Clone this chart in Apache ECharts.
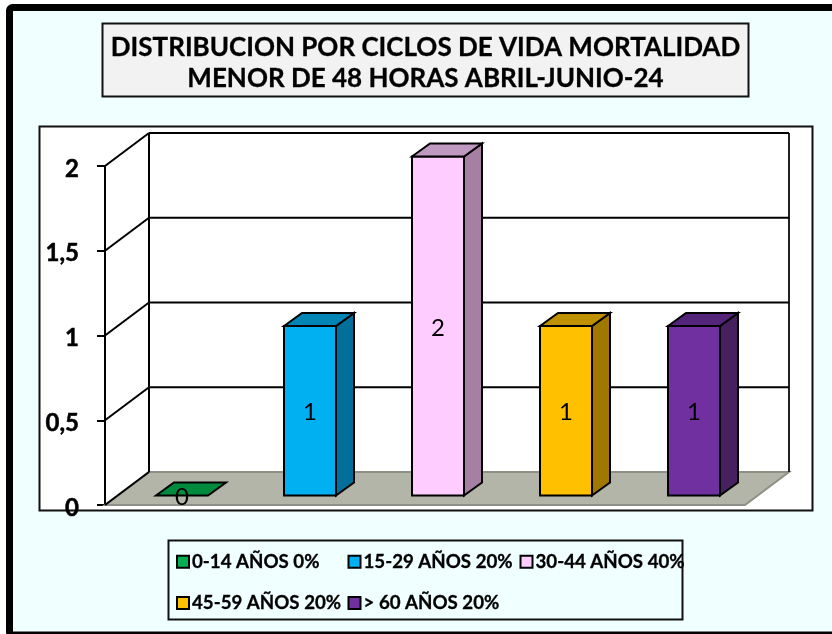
<!DOCTYPE html>
<html>
<head>
<meta charset="utf-8">
<script src="https://cdn.jsdelivr.net/npm/echarts@6/dist/echarts.min.js"></script>
<style>
  html, body { margin: 0; padding: 0; background: #fff; }
  #chart { width: 832px; height: 634px; }
</style>
</head>
<body>
<div id="chart"></div>
<script>
// datos
const titleText = 'DISTRIBUCION POR CICLOS DE VIDA MORTALIDAD\nMENOR DE 48 HORAS ABRIL-JUNIO-24';
const ageGroups = ['0-14 AÑOS', '15-29 AÑOS', '30-44 AÑOS', '45-59 AÑOS', '> 60 AÑOS'];
const deaths = [0, 1, 2, 1, 1];
const shares = ['0%', '20%', '40%', '20%', '20%'];
const yTicks = [0, 0.5, 1, 1.5, 2];

// colores: frente, lado, tapa
const frontColors = ['#00B050', '#00B0F0', '#FFCCFF', '#FFC000', '#7030A0'];
const sideColors = ['#006A30', '#006F99', '#A680A3', '#A07800', '#472060'];
const topColors = ['#008A3E', '#0085B5', '#BF99BF', '#BF9000', '#54247A'];

const FONT = 'Lato, Carlito, sans-serif';
const wallDepth = [44, -33];    // desplazamiento de la pared del fondo
const barOffset = [13, -9.5];   // donde empieza la barra dentro del piso
const barDepth = [18, -13];     // profundidad de la barra
const barWidth = 52;
const legendNames = ageGroups.map((g, i) => g + ' ' + shares[i]);

const line = (x1, y1, x2, y2, color, width) => ({
  type: 'line',
  shape: { x1, y1, x2, y2 },
  style: { stroke: color || '#000', lineWidth: width || 2 }
});
const poly = (points, fill, stroke) => ({
  type: 'polygon',
  shape: { points },
  style: { fill, stroke: stroke || '#000', lineWidth: 2, lineJoin: 'miter' }
});

// paredes y piso, una pieza por cada tick
const renderWall = (params, api) => {
  const v = api.value(0);
  const cs = params.coordSys;
  const y = api.coord([0, v])[1];
  const [dx, dy] = wallDepth;
  const left = cs.x, right = cs.x + cs.width;
  const children = [];
  if (v === 0) {
    children.push(poly([[left, y], [left + dx, y + dy], [right + dx, y + dy], [right, y]], '#B2B5A7', '#8E8F86'));
    children.push(line(left, y, left + dx, y + dy, '#000'));
    children.push(line(right + dx, cs.y + dy, right + dx, y + dy, '#222'));
    children.push(line(left + dx, cs.y + dy, left + dx, y + dy, '#000'));
  } else {
    children.push(line(left, y, left + dx, y + dy));
    children.push(line(left + dx, y + dy, right + dx, y + dy));
  }
  return { type: 'group', children };
};

const renderBar = (params, api) => {
  const i = api.value(0);
  const val = api.value(1);
  const base = api.coord([i, 0]);
  const top = api.coord([i, val]);
  const x0 = base[0] + barOffset[0] - barWidth / 2;
  const x1 = x0 + barWidth;
  const y0 = base[1] + barOffset[1];
  const y1 = top[1] + barOffset[1];
  const [dx, dy] = barDepth;
  const children = [];
  if (val > 0) {
    children.push(poly([[x1, y0], [x1 + dx, y0 + dy], [x1 + dx, y1 + dy], [x1, y1]], sideColors[i]));
    children.push(poly([[x0, y0], [x1, y0], [x1, y1], [x0, y1]], frontColors[i]));
  }
  children.push(poly([[x0, y1], [x0 + dx, y1 + dy], [x1 + dx, y1 + dy], [x1, y1]], topColors[i]));
  children.push({
    type: 'text',
    style: {
      text: String(val), x: (x0 + x1) / 2, y: val > 0 ? (y0 + y1) / 2 + 2 : y0 + 2,
      align: 'center', verticalAlign: 'middle',
      font: '24px ' + FONT, fill: '#000'
    }
  });
  return { type: 'group', children };
};

const legendColumn = (left, names) => ({
  orient: 'vertical',
  left,
  top: 552,
  padding: 0,
  itemWidth: 12,
  itemHeight: 12,
  itemGap: 22,
  selectedMode: false,
  icon: 'rect',
  data: names,
  textStyle: {
    fontFamily: FONT, fontWeight: 'bold', fontSize: 18.7, color: '#000',
    textBorderColor: '#000', textBorderWidth: 0.3, padding: [0, 0, 0, -2]
  }
});

const option = {
  animation: false,
  textStyle: { fontFamily: FONT },
  title: {
    text: titleText,
    left: 425.5,
    top: 32,
    padding: 0,
    textAlign: 'center',
    textStyle: {
      fontFamily: FONT, fontWeight: 'bold', fontSize: 26, lineHeight: 31, color: '#000',
      textBorderColor: '#000', textBorderWidth: 0.3
    }
  },
  legend: [
    legendColumn(176, [legendNames[0], legendNames[3]]),
    legendColumn(347.5, [legendNames[1], legendNames[4]]),
    legendColumn(519.5, [legendNames[2]])
  ],
  grid: { left: 105, right: 87, top: 166, bottom: 129 },
  xAxis: {
    type: 'category',
    data: ageGroups,
    axisLine: { show: false },
    axisTick: { show: false },
    axisLabel: { show: false }
  },
  yAxis: {
    type: 'value',
    min: 0,
    max: 2,
    interval: 0.5,
    splitLine: { show: false },
    axisLine: { show: true, lineStyle: { color: '#000', width: 2 } },
    axisTick: { show: true, length: 8, lineStyle: { color: '#000', width: 2 } },
    axisLabel: {
      margin: 26,
      fontFamily: FONT,
      fontWeight: 'bold',
      fontSize: 24,
      color: '#000',
      textBorderColor: '#000',
      textBorderWidth: 0.5,
      verticalAlign: 'top',
      lineHeight: 6,
      formatter: v => String(v).replace('.', ',')
    }
  },
  graphic: [
    { type: 'rect', z: -10, shape: { x: 9.5, y: 7.5, width: 900, height: 627.5, r: 3 }, style: { fill: '#F0FFFF', stroke: '#000', lineWidth: 7 } },
    { type: 'rect', z: -9, shape: { x: 102.5, y: 23.5, width: 646, height: 73 }, style: { fill: '#F2F2F2', stroke: '#111', lineWidth: 2 } },
    { type: 'rect', z: -9, shape: { x: 39.5, y: 126.5, width: 773, height: 384 }, style: { fill: '#fff', stroke: '#111', lineWidth: 2 } },
    { type: 'rect', z: -9, shape: { x: 168.5, y: 540.5, width: 514, height: 79 }, style: { fill: '#F0FFFF', stroke: '#111', lineWidth: 2 } }
  ],
  series: [
    {
      type: 'custom',
      name: 'paredes',
      silent: true,
      clip: false,
      z: 1,
      renderItem: renderWall,
      encode: { y: 0 },
      data: yTicks.map(v => [v])
    },
    ...ageGroups.map((g, i) => ({
      type: 'custom',
      name: legendNames[i],
      clip: false,
      z: 3,
      renderItem: renderBar,
      itemStyle: { color: frontColors[i], borderColor: '#000', borderWidth: 2 },
      encode: { x: 0, y: 1 },
      data: [[i, deaths[i]]]
    }))
  ]
};

const myChart = echarts.init(document.getElementById('chart'), null, { renderer: 'canvas' });
myChart.setOption(option);
</script>
</body>
</html>
